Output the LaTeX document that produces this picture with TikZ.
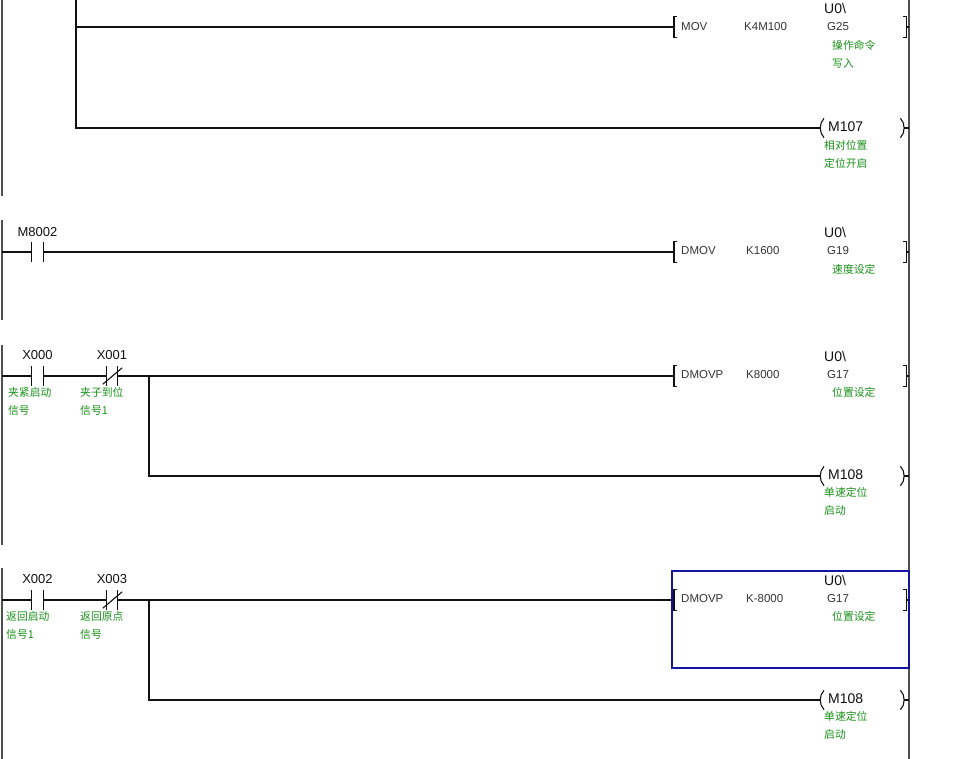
\documentclass[tikz,border=0pt]{standalone}
\usepackage{fontspec}
\setmainfont{Liberation Sans}
\newfontfamily\cjk{Noto Sans CJK SC}
\usetikzlibrary{positioning}
\definecolor{Wire}{HTML}{111111}
\definecolor{Rail}{HTML}{505050}
\definecolor{Note}{HTML}{189018}
\definecolor{Frame}{HTML}{1414A0}

\begin{document}
\begin{tikzpicture}[
  x=1pt, y=-1pt,
  wire/.style={draw=Wire, line width=1.1pt},
  rail/.style={draw=Rail, line width=1.8pt},
  contact/.style={minimum width=11pt, minimum height=19pt, inner sep=0pt},
  coil/.style={minimum width=84pt, minimum height=19pt, inner sep=0pt, anchor=west},
  instr/.style={minimum width=232pt, minimum height=20pt, inner sep=0pt, anchor=west},
  dev/.style={font=\fontsize{13}{15}\selectfont, text=Wire, inner sep=0pt},
  uo/.style={font=\fontsize{14}{16}\selectfont, text=Wire, inner sep=0pt, anchor=west},
  op/.style={font=\fontsize{11.5}{13}\selectfont, text=Wire!85, inner sep=0pt, anchor=west},
  note/.style={font=\cjk\fontsize{10.8}{18}\selectfont, text=Note, inner sep=0pt,
    anchor=north west, align=left}
]
\useasboundingbox (0,0) rectangle (972,759);

% Rails
\draw[rail] (2,0) -- (2,196);
\draw[rail] (2,220) -- (2,320);
\draw[rail] (2,345) -- (2,545);
\draw[rail] (2,568) -- (2,759);
\draw[rail] (909,0) -- (909,759);
\coordinate (rr) at (909,0);

% Rung 1 (MOV, M107)
\coordinate (b1top) at (76,0);
\coordinate (b1) at (76,27);
\node[instr] (mov) at (674,27) {};
\node[coil] (m107) at (820,128) {};
\draw[wire] (b1top) -- (b1) -- (mov);
\draw[wire] (b1) |- (m107);
\node[op] at (681,27) {MOV};
\node[op] at (744,27) {K4M100};
\node[uo] at (824,8) {U0\textbackslash};
\node[op] at (827,27) {G25};
\node[note] at (832,40) {操作命令\\写入};
\node[uo] at (828,127) {M107};
\node[note] at (824,140) {相对位置\\定位开启};

% Rung 2 (M8002, DMOV)
\coordinate (l2) at (2,252);
\node[contact] (m8002) at (37.5,252) {};
\node[instr] (dmov) at (674,252) {};
\draw[wire] (l2) -- (m8002) -- (dmov);
\node[dev, above=5pt of m8002] {M8002};
\node[op] at (681,251) {DMOV};
\node[op] at (746,251) {K1600};
\node[uo] at (824,232) {U0\textbackslash};
\node[op] at (827,251) {G19};
\node[note] at (832,264) {速度设定};

% Rung 3 (X000, X001, DMOVP, M108)
\coordinate (l3) at (2,376);
\node[contact] (x000) at (37.5,376) {};
\node[contact] (x001) at (112,376) {};
\coordinate (b3) at (149,376);
\node[instr] (dmovp1) at (674,376) {};
\node[coil] (m108a) at (820,476) {};
\draw[wire] (l3) -- (x000) -- (x001) -- (b3) -- (dmovp1);
\draw[wire] (b3) |- (m108a);
\node[dev, above=6pt of x000] {X000};
\node[dev, above=6pt of x001] {X001};
\node[note] at (8,387) {夹紧启动\\信号};
\node[note] at (80,387) {夹子到位\\信号1};
\node[op] at (681,375) {DMOVP};
\node[op] at (746,375) {K8000};
\node[uo] at (824,356) {U0\textbackslash};
\node[op] at (827,375) {G17};
\node[note] at (832,387) {位置设定};
\node[uo] at (828,475) {M108};
\node[note] at (824,487) {单速定位\\启动};

% Rung 4 (X002, X003, DMOVP, M108)
\coordinate (l4) at (2,600);
\node[contact] (x002) at (37.5,600) {};
\node[contact] (x003) at (112,600) {};
\coordinate (b4) at (149,600);
\node[instr] (dmovp2) at (674,600) {};
\node[coil] (m108b) at (820,700) {};
\draw[wire] (l4) -- (x002) -- (x003) -- (b4) -- (dmovp2);
\draw[wire] (b4) |- (m108b);
\node[dev, above=6pt of x002] {X002};
\node[dev, above=6pt of x003] {X003};
\node[note] at (6,611) {返回启动\\信号1};
\node[note] at (80,611) {返回原点\\信号};
\node[op] at (681,599) {DMOVP};
\node[op] at (746,599) {K-8000};
\node[uo] at (824,580) {U0\textbackslash};
\node[op] at (827,599) {G17};
\node[note] at (832,611) {位置设定};
\node[uo] at (828,699) {M108};
\node[note] at (824,711) {单速定位\\启动};

% Contacts
\foreach \k in {m8002,x000,x001,x002,x003}
  \draw[wire] (\k.north west) -- (\k.south west) (\k.north east) -- (\k.south east);
\foreach \k in {x001,x003}
  \draw[wire] ([shift={(-3.5,-1.5)}]\k.south west) -- ([shift={(4.5,1.5)}]\k.north east);

% Instruction brackets
\foreach \i in {mov,dmov,dmovp1,dmovp2} {
  \draw[wire] ([xshift=3pt]\i.north west) -| (\i.south west) -- ++(3,0);
  \draw[wire] ([xshift=-3pt]\i.north east) -| (\i.south east) -- ++(-3,0);
  \draw[wire] (\i.east) -- (\i.east -| rr);
}

% Coils
\foreach \c in {m107,m108a,m108b} {
  \draw[wire] ([xshift=4pt]\c.north west) .. controls ([shift={(-1,5)}]\c.north west)
    and ([shift={(-1,-5)}]\c.south west) .. ([xshift=4pt]\c.south west);
  \draw[wire] ([xshift=-4pt]\c.north east) .. controls ([shift={(1,5)}]\c.north east)
    and ([shift={(1,-5)}]\c.south east) .. ([xshift=-4pt]\c.south east);
  \draw[wire] (\c.east) -- (\c.east -| rr);
}

% Selection frame
\node[draw=Frame, line width=2pt, minimum width=237pt, minimum height=97pt,
  inner sep=0pt, anchor=north west] (sel) at (671,570) {};
\end{tikzpicture}
\end{document}
